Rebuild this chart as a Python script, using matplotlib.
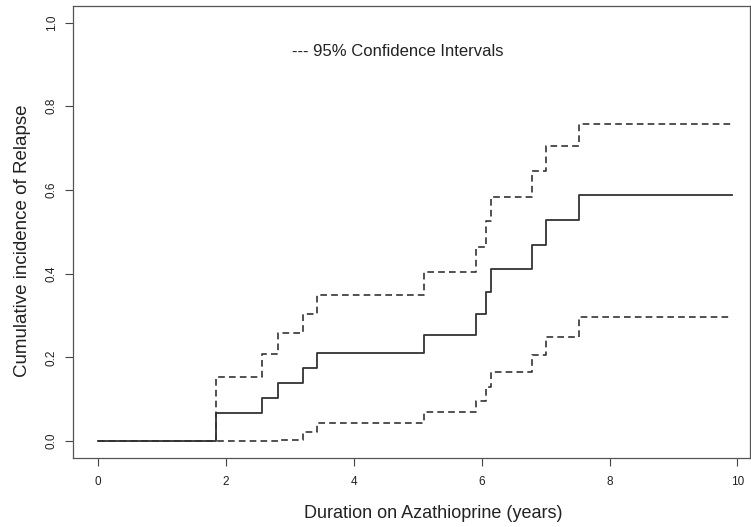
import matplotlib
matplotlib.use("Agg")
import matplotlib.pyplot as plt

# event times (years) and cumulative incidence estimates
times = [0, 1.85, 2.57, 2.82, 3.21, 3.43, 5.10, 5.91, 6.07, 6.15, 6.79, 7.00, 7.53, 9.92]
cif = [0, 0.067, 0.104, 0.138, 0.174, 0.211, 0.254, 0.304, 0.357, 0.411, 0.469, 0.529, 0.587, 0.587]
upper = [0, 0.154, 0.208, 0.258, 0.304, 0.349, 0.403, 0.463, 0.525, 0.584, 0.646, 0.704, 0.758, 0.758]
lower = [0, 0, 0, 0.002, 0.021, 0.044, 0.069, 0.096, 0.130, 0.166, 0.206, 0.250, 0.296, 0.296]

plt.rcParams['font.family'] = ['Liberation Sans', 'DejaVu Sans']

fig = plt.figure(figsize=(7.51, 5.27), dpi=100)
ax = fig.add_axes([0.097, 0.131, 0.902, 0.858])

col = '#333333'
ax.step(times, cif, where='post', color=col, lw=1.3)
ax.step(times, upper, where='post', color=col, lw=1.2, linestyle=(0, (4, 2.5)))
ax.step(times, lower, where='post', color=col, lw=1.2, linestyle=(0, (4, 2.5)))

ax.text(3.03, 0.93, '--- 95% Confidence Intervals', fontsize=12, color='#222222',
        ha='left', va='center')

ax.set_xlim(-0.39, 10.2)
ax.set_ylim(-0.04, 1.04)
ax.set_xticks([0, 2, 4, 6, 8, 10])
ax.set_yticks([0.0, 0.2, 0.4, 0.6, 0.8, 1.0])
ax.set_yticklabels(['0.0', '0.2', '0.4', '0.6', '0.8', '1.0'], rotation=90, va='center')
ax.tick_params(direction='out', length=6, width=0.8, colors='#444444', labelsize=8.5,
               labelcolor='#222222')
ax.tick_params(axis='x', pad=7)
ax.tick_params(axis='y', pad=5)

for s in ax.spines.values():
    s.set_color('#555555')
    s.set_linewidth(0.9)

ax.set_xlabel('Duration on Azathioprine (years)', fontsize=13, color='#222222')
ax.set_ylabel('Cumulative incidence of Relapse', fontsize=13.5, color='#222222')
ax.xaxis.set_label_coords(0.532, -0.104)
ax.yaxis.set_label_coords(-0.062, 0.48)

fig.savefig('out.png', dpi=100)
